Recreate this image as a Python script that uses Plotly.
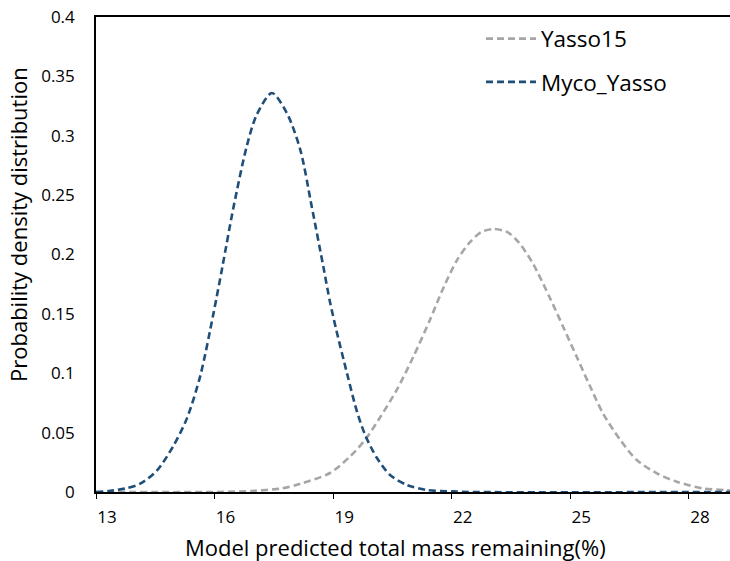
import plotly.graph_objects as go

# Yasso15 (grey)
yasso_x = [13.0, 16.0, 17.0, 17.7, 18.17, 18.92, 19.43, 19.81, 20.19, 20.61, 21.03, 21.45,
           21.79, 22.13, 22.45, 22.75, 23.07, 23.4, 23.7, 24.06, 24.49, 24.82, 25.16, 25.50,
           25.83, 26.26, 26.68, 27.19, 27.69, 28.36, 28.95, 29.1]
yasso_y = [0.0, 0.0, 0.001, 0.003, 0.007, 0.016, 0.030, 0.044, 0.063, 0.086, 0.114, 0.145,
           0.172, 0.195, 0.210, 0.219, 0.2215, 0.219, 0.210, 0.192, 0.163, 0.139, 0.114, 0.089,
           0.066, 0.044, 0.027, 0.0157, 0.0087, 0.003, 0.0015, 0.001]

# Myco_Yasso (dark blue)
myco_x = [13.0, 13.36, 13.75, 14.12, 14.54, 14.96, 15.30, 15.64, 15.97, 16.20, 16.48, 16.82,
          17.07, 17.45, 17.83, 18.17, 18.46, 18.75, 18.92, 19.09, 19.35, 19.60, 19.81, 20.10,
          20.44, 20.86, 21.37, 22.0, 22.5, 29.1]
myco_y = [0.0, 0.001, 0.003, 0.007, 0.018, 0.039, 0.062, 0.098, 0.150, 0.190, 0.240, 0.292,
          0.318, 0.336, 0.319, 0.288, 0.240, 0.190, 0.160, 0.135, 0.100, 0.068, 0.048, 0.029,
          0.0143, 0.006, 0.0017, 0.0005, 0.0, 0.0]

series_names = ["Yasso15", "Myco_Yasso"]
x_ticks = [13, 16, 19, 22, 25, 28]
y_ticks = [0, 0.05, 0.1, 0.15, 0.2, 0.25, 0.3, 0.35, 0.4]
y_tick_text = ["0", "0.05", "0.1", "0.15", "0.2", "0.25", "0.3", "0.35", "0.4"]

FONT = "Open Sans"
W, H = 730, 561
L, R, T, B = 96, 0, 17, 69
PW, PH = W - L - R, H - T - B

fig = go.Figure()
fig.add_trace(go.Scatter(
    x=yasso_x, y=yasso_y, name=series_names[0], mode="lines",
    line=dict(color="#A6A6A6", width=2.6, dash="7px,4px", shape="spline", smoothing=0.8),
    legendgroup="a",
))
fig.add_trace(go.Scatter(
    x=myco_x, y=myco_y, name=series_names[1], mode="lines",
    line=dict(color="#1F4E79", width=2.6, dash="7px,4px", shape="spline", smoothing=0.8),
    legendgroup="b",
))

fig.update_layout(
    width=W, height=H,
    margin=dict(l=L, r=R, t=T, b=B, pad=0),
    paper_bgcolor="white", plot_bgcolor="white",
    font=dict(family=FONT, size=17, color="#000000"),
    showlegend=True,
    legend=dict(
        x=(481 - L) / PW, y=1 - (17.5 - T) / PH,
        xanchor="left", yanchor="top",
        bgcolor="rgba(0,0,0,0)", borderwidth=0,
        font=dict(family=FONT, size=22.5, color="#000000"),
        traceorder="grouped", tracegroupgap=11, itemwidth=50,
    ),
    xaxis=dict(
        range=[13, 29.04], tickvals=x_ticks, ticktext=[str(v) for v in x_ticks],
        ticks="outside", ticklen=5, tickwidth=1.3, tickcolor="#000000",
        showline=True, linecolor="#000000", linewidth=1.6, mirror=True,
        showgrid=False, zeroline=False, ticklabelshift=11, ticklabelstandoff=4,
        tickfont=dict(size=17),
    ),
    yaxis=dict(
        range=[0, 0.4], tickvals=y_ticks, ticktext=y_tick_text,
        ticks="", showline=True, linecolor="#000000", linewidth=1.6,
        showgrid=False, zeroline=False, ticklabelstandoff=16,
        tickfont=dict(size=17),
    ),
    annotations=[
        dict(text="Model predicted total mass remaining(%)", xref="paper", yref="paper",
             x=(395 - L) / PW, y=-(547 - (H - B)) / PH,
             xanchor="center", yanchor="middle", showarrow=False,
             font=dict(family=FONT, size=22, color="#000000")),
        dict(text="Probability density distribution", xref="paper", yref="paper",
             x=(18 - L) / PW, y=1 - (225 - T) / PH,
             xanchor="center", yanchor="middle", showarrow=False, textangle=-90,
             font=dict(family=FONT, size=22, color="#000000")),
    ],
)

fig.write_html(
    "out.html",
    config={"displayModeBar": False},
    post_script="document.body.style.margin='0';document.body.style.padding='0';"
                "document.documentElement.style.overflow='hidden';",
)
